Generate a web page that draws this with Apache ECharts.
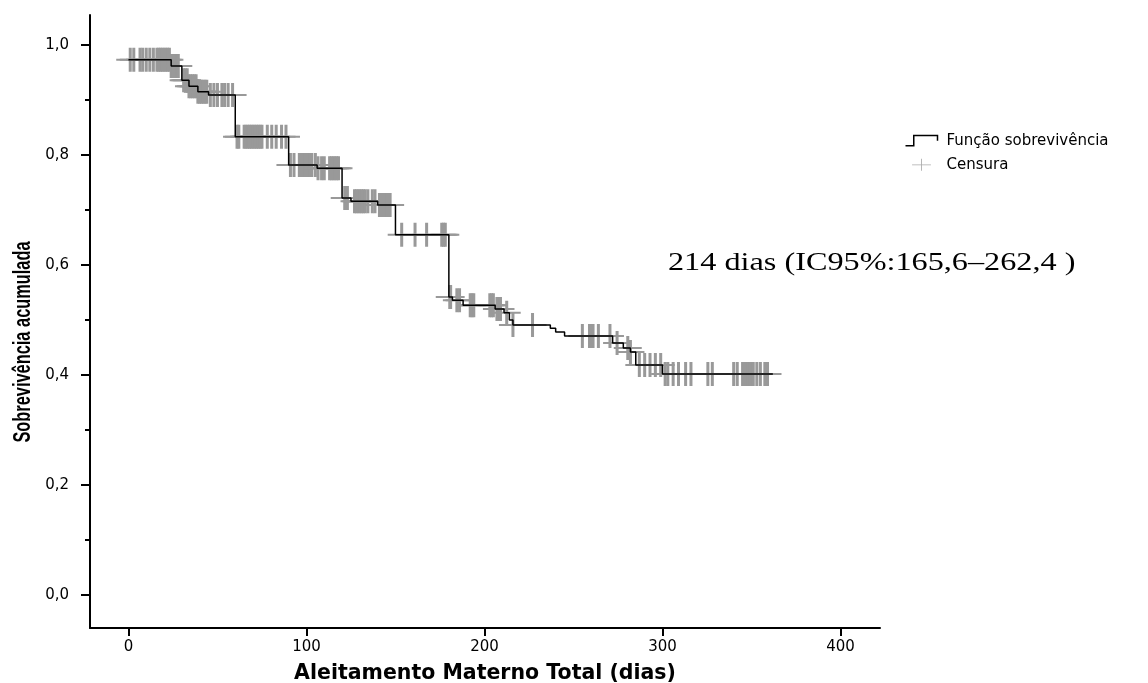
<!DOCTYPE html>
<html>
<head>
<meta charset="utf-8">
<script src="https://cdn.jsdelivr.net/npm/echarts@6/dist/echarts.min.js"></script>
<style>
html,body{margin:0;padding:0;background:#fff;}
#chart{width:1148px;height:683px;}
</style>
</head>
<body>
<div id="chart"></div>
<script>
// ---- data ----
const kmTimes = [0, 24, 30, 34, 39, 45, 60, 90, 106, 120, 125, 140, 150, 180, 182, 188, 206, 211, 214, 216, 237, 240, 245, 272, 278, 282, 285, 300, 362];
const kmSurvival = [0.973, 0.962, 0.936, 0.925, 0.915, 0.909, 0.833, 0.782, 0.776, 0.722, 0.716, 0.709, 0.655, 0.542, 0.536, 0.527, 0.520, 0.513, 0.500, 0.491, 0.485, 0.478, 0.471, 0.458, 0.449, 0.442, 0.418, 0.402, 0.402];
const censorTimes = [
  1, 3, 6.5, 8, 10, 12, 14, 16, 17, 18, 19, 20, 21, 22, 23, 24, 25, 26, 27, 28,
  31, 32, 33, 34, 35, 36, 37, 38, 39, 40, 41, 42, 43, 44, 46, 48, 50, 52.5, 54, 56, 58.5,
  61, 62, 65, 66, 67, 68, 69, 70, 71, 72, 73, 74, 75, 78, 80.5, 83, 86, 88.5,
  91, 93, 96, 97, 98, 99, 100, 101, 102, 103, 105, 106.5, 108.5, 110, 113, 114, 115, 116, 117, 118,
  121.5, 123, 127, 128, 129, 130, 131, 132, 133, 134.5, 137, 138.5, 141, 142, 143, 144, 145, 146, 147,
  153.5, 161, 167.5, 176, 177, 178,
  180.5, 181, 184.5, 186, 192, 193, 194, 203, 204, 205, 207, 208, 209, 212.5, 216, 227,
  255, 259, 260, 261, 264, 270.5, 274.5,
  280.5, 282,
  287, 290, 293, 296, 299,
  301.5, 303, 306, 309, 313, 316, 325.5, 328, 340, 342, 345, 346, 347, 348, 349, 350, 351, 353, 355, 357.5, 359
];
const xTickValues = [0, 100, 200, 300, 400];
const yMajorTicks = [0, 0.2, 0.4, 0.6, 0.8, 1.0];
const yMinorTicks = [0.1, 0.3, 0.5, 0.7, 0.9];
const seriesNames = ['Função sobrevivência', 'Censura'];
const xTitle = 'Aleitamento Materno Total (dias)';
const yTitle = 'Sobrevivência acumulada';
const annotation = '214 dias (IC95%:165,6–262,4 )';

// survival level of the step curve at a given time
function survivalAt(t) {
  let s = kmSurvival[0];
  for (let i = 0; i < kmTimes.length; i++) {
    if (kmTimes[i] <= t) s = kmSurvival[i];
  }
  return s;
}

const kmData = kmTimes.map((t, i) => [t, kmSurvival[i]]);
const censorData = censorTimes.map(t => [t, survivalAt(t)]);

const plusPath = 'path://M0,11 L28,11 L28,13 L0,13 Z M12.5,0 L15.5,0 L15.5,24 L12.5,24 Z';

const chart = echarts.init(document.getElementById('chart'), null, {renderer: 'canvas'});
const yCommon = {
  type: 'value', min: -0.06, max: 1.0545, position: 'left',
  splitLine: {show: false}
};
chart.setOption({
  animation: false,
  backgroundColor: '#fff',
  grid: {left: 90, right: 268, top: 15, bottom: 55, containLabel: false, outerBoundsMode: 'none'},
  legend: {
    orient: 'vertical', left: 903, top: 133, padding: 0,
    itemWidth: 32, itemHeight: 12, itemGap: 9,
    textStyle: {fontFamily: 'DejaVu Sans', fontSize: 15, color: '#000', padding: [0, 0, 0, 4]},
    data: [
      {name: seriesNames[0], icon: 'path://M0,11 L8,11 L8,1 L31,1 L31,6',
       itemStyle: {color: 'none', borderColor: '#000', borderWidth: 1.5}},
      {name: seriesNames[1], icon: 'path://M0,6.5 L22,6.5 L22,7.5 L0,7.5 Z M10.5,0 L11.5,0 L11.5,14 L10.5,14 Z',
       itemStyle: {color: '#aaa'}}
    ]
  },
  xAxis: {
    type: 'value', min: -21.6, max: 422.2,
    name: xTitle, nameLocation: 'middle', nameGap: 35,
    nameTextStyle: {fontFamily: 'DejaVu Sans', fontWeight: 'bold', fontSize: 20.5, color: '#000'},
    axisLine: {onZero: false, lineStyle: {color: '#000', width: 2}},
    axisTick: {customValues: xTickValues, length: 8, lineStyle: {color: '#000', width: 2}},
    axisLabel: {customValues: xTickValues, margin: 12, fontFamily: 'DejaVu Sans', fontSize: 15, color: '#000'},
    splitLine: {show: false}
  },
  yAxis: [
    Object.assign({}, yCommon, {
      axisLine: {show: true, onZero: false, lineStyle: {color: '#000', width: 2}},
      axisTick: {show: true, customValues: yMajorTicks, length: 9, lineStyle: {color: '#000', width: 2}},
      axisLabel: {customValues: yMajorTicks, margin: 21, fontFamily: 'DejaVu Sans', fontSize: 15, color: '#000',
        formatter: v => v.toFixed(1).replace('.', ',')}
    }),
    Object.assign({}, yCommon, {
      axisLine: {show: false, onZero: false},
      axisTick: {show: true, customValues: yMinorTicks, length: 5, lineStyle: {color: '#000', width: 2}},
      axisLabel: {show: false}
    })
  ],
  series: [
    {
      name: seriesNames[0], type: 'line', step: 'end', data: kmData,
      showSymbol: false, symbol: 'none',
      lineStyle: {color: '#000', width: 1.5},
      itemStyle: {color: '#000'}
    },
    {
      name: seriesNames[1], type: 'scatter', data: censorData,
      symbol: plusPath, symbolSize: [28, 24],
      itemStyle: {color: '#999', opacity: 1}
    }
  ],
  graphic: [
    {type: 'text', x: 23, y: 342, rotation: Math.PI / 2, scaleX: 0.78, scaleY: 1.15,
     style: {text: yTitle, font: 'bold 21px "Liberation Sans", Arial, sans-serif', fill: '#000', align: 'center', verticalAlign: 'middle'}},
    {type: 'text', x: 668, y: 263, scaleX: 1.24,
     style: {text: annotation, font: '26px "Liberation Serif", "Times New Roman", serif', fill: '#000', align: 'left', verticalAlign: 'middle'}}
  ]
});
</script>
</body>
</html>
